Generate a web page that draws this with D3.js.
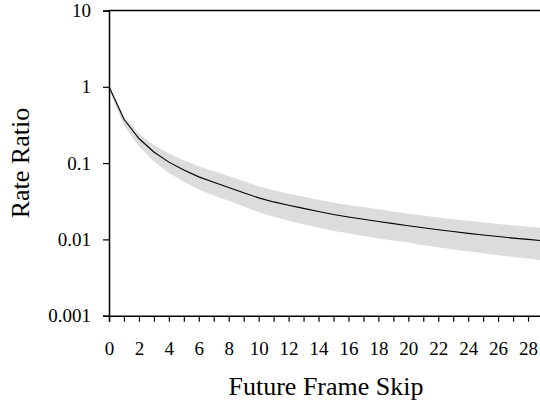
<!DOCTYPE html>
<html>
<head>
<meta charset="utf-8">
<script src="https://cdn.jsdelivr.net/npm/d3@7"></script>
<style>
  html, body { margin: 0; padding: 0; background: #fff; }
  svg { display: block; }
  text { font-family: "Liberation Serif", "Times New Roman", serif; fill: #000; }
</style>
</head>
<body>
<svg id="chart" width="540" height="402"></svg>
<script>
// Data
const frameSkip = [0,1,2,3,4,5,6,7,8,9,10,11,12,13,14,15,16,17,18,19,20,21,22,23,24,25,26,27,28,29];
const meanRatio = [1.0,0.375,0.21,0.14,0.103,0.081,0.066,0.056,0.048,0.041,0.035,0.031,0.028,0.0255,0.0232,0.0212,0.0197,0.0184,0.0172,0.0161,0.0151,0.0142,0.0134,0.0127,0.0120,0.0114,0.0109,0.0104,0.0100,0.0096];
const upperRatio = [1.08,0.41,0.244,0.171,0.134,0.109,0.091,0.078,0.068,0.058,0.0497,0.044,0.0398,0.0362,0.0332,0.0303,0.0282,0.0265,0.0248,0.0232,0.0217,0.0206,0.0194,0.0184,0.0175,0.0166,0.0159,0.0153,0.0147,0.0141];
const lowerRatio = [0.92,0.31,0.166,0.105,0.074,0.057,0.045,0.0375,0.032,0.027,0.0228,0.0198,0.0176,0.0158,0.0143,0.0129,0.0120,0.0111,0.0103,0.0097,0.0091,0.0084,0.0079,0.0074,0.0070,0.0066,0.0062,0.0059,0.0056,0.0053];
const yTickValues = [0.001, 0.01, 0.1, 1, 10];
const yTickLabels = ["0.001", "0.01", "0.1", "1", "10"];
const xTickValues = d3.range(0, 29, 1);
const xTitle = "Future Frame Skip";
const yTitle = "Rate Ratio";

const rows = frameSkip.map((x, i) => ({x, m: meanRatio[i], lo: lowerRatio[i], hi: upperRatio[i]}));

const svg = d3.select("#chart");
const mLeft = 109, mRight = 543, mTop = 10.5, mBottom = 315.7;
const serif = '"Liberation Serif", "Times New Roman", serif';

const xs = d3.scaleLinear().domain([0, 29]).range([mLeft, mRight]);
const ys = d3.scaleLog().domain([0.001, 10]).range([mBottom, mTop]);

// band
svg.append("path")
  .datum(rows)
  .attr("fill", "#dcdcdc")
  .attr("d", d3.area().x(d => xs(d.x)).y0(d => ys(d.lo)).y1(d => ys(d.hi)));

// mean line
svg.append("path")
  .datum(rows)
  .attr("fill", "none")
  .attr("stroke", "#000")
  .attr("stroke-width", 1.1)
  .attr("d", d3.line().x(d => xs(d.x)).y(d => ys(d.m)));

// top frame line
svg.append("line")
  .attr("x1", mLeft).attr("x2", mRight)
  .attr("y1", ys(10)).attr("y2", ys(10))
  .attr("stroke", "#000").attr("stroke-width", 1.5);

// y axis
const gY = svg.append("g")
  .attr("transform", `translate(${mLeft},0)`)
  .call(d3.axisLeft(ys).tickValues(yTickValues)
    .tickFormat((d, i) => yTickLabels[i]).tickSize(6).tickPadding(12));

// x axis
const gX = svg.append("g")
  .attr("transform", `translate(0,${mBottom})`)
  .call(d3.axisBottom(xs).tickValues(xTickValues)
    .tickFormat(d => d % 2 === 0 ? String(d) : "").tickSize(6).tickPadding(20));

[gY, gX].forEach(g => {
  g.attr("font-family", serif).attr("font-size", 19);
  g.selectAll("text").attr("font-family", serif).style("font-family", serif).style("font-size", "19px");
  g.select(".domain").attr("stroke", "#000").attr("stroke-width", 1.5);
  g.selectAll(".tick line").attr("stroke", "#000").attr("stroke-width", 1.2);
});

// titles
svg.append("text")
  .attr("x", (mLeft + mRight) / 2).attr("y", 395)
  .attr("text-anchor", "middle")
  .style("font-size", "26px")
  .text(xTitle);

svg.append("text")
  .attr("transform", `translate(29,${(mTop + mBottom) / 2}) rotate(-90)`)
  .attr("text-anchor", "middle")
  .style("font-size", "26px")
  .text(yTitle);
</script>
</body>
</html>
